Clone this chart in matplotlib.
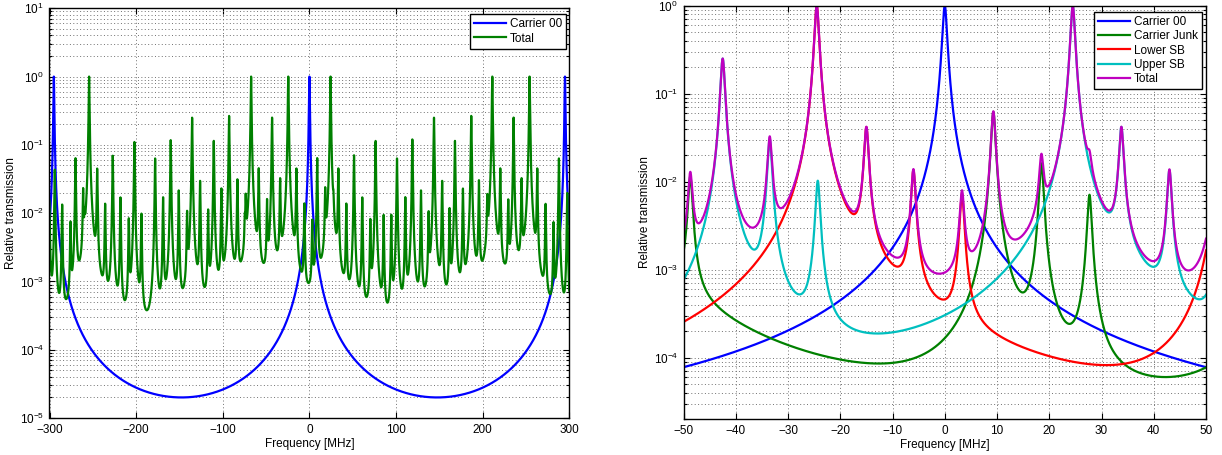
import numpy as np
import matplotlib
matplotlib.use("Agg")
import matplotlib.pyplot as plt
from matplotlib.ticker import LogLocator, FixedLocator, NullFormatter

plt.rcParams['font.family'] = ['Liberation Sans', 'DejaVu Sans']
plt.rcParams['mathtext.fontset'] = 'custom'
plt.rcParams['mathtext.rm'] = 'Liberation Sans'
plt.rcParams['mathtext.it'] = 'Liberation Sans:italic'
plt.rcParams['mathtext.bf'] = 'Liberation Sans:bold'

# ---------------- data ----------------
# cavity line parameters
fsr_mhz = 295.0          # free spectral range of carrier 00 (peaks at 0, +-295)
coeff_F = 5.0e4          # min of carrier 00 = 1/(1+F) ~ 2e-5
linewidth_mhz = 0.8      # FWHM of each resonance

# left panel: resonance peaks of the "Total" curve (MHz, relative height)
left_total_freq = [-300.4, -293.9, -285.4, -275.8, -270.0, -261.2, -259.5, -254.3,
                   -245.0, -235.8, -227.0, -218.1, -208.5, -202.0, -193.9, -178.1,
                   -168.9, -160.1, -150.8, -141.2, -135.4, -126.2, -116.9, -110.4,
                   -101.6, -92.7, -83.1, -74.6, -73.5, -67.3, -58.5, -48.9, -43.1,
                   -33.8, -24.4, -15.0, -5.8, 3.3, 9.0, 18.2, 24.4, 27.7, 33.4,
                   42.6, 51.5, 61.0, 70.3, 76.4, 85.7, 94.5, 101.1, 110.7, 118.8,
                   128.8, 137.6, 143.8, 153.2, 161.8, 168.0, 177.2, 186.8, 195.7,
                   205.3, 211.1, 220.3, 229.5, 235.7, 244.9, 254.1, 263.0, 272.6,
                   281.8, 288.0, 297.6]
left_total_height = [0.03, 0.043, 0.013, 0.0068, 0.063, 0.0195, 0.005, 1.0,
                     0.043, 0.013, 0.069, 0.0166, 0.0078, 0.11, 0.0094, 0.063,
                     0.0166, 0.117, 0.021, 0.0094, 0.25, 0.029, 0.0105, 0.114,
                     0.022, 0.265, 0.03, 0.005, 0.0142, 1.0, 0.043, 0.014, 0.25,
                     0.03, 1.0, 0.043, 0.013, 0.007, 0.063, 0.0195, 1.0, 0.007, 0.043,
                     0.013, 0.07, 0.0166, 0.0075, 0.114, 0.009, 0.009, 0.063, 0.0166, 0.12,
                     0.021, 0.0094, 0.25, 0.029, 0.011, 0.114, 0.022, 0.265, 0.029,
                     0.014, 1.0, 0.043, 0.014, 0.25, 0.03, 1.0, 0.043, 0.013,
                     0.0068, 0.063, 0.0195]

# right panel: peaks of each field component (MHz, relative height)
carrier00_freq = [0.0]
carrier00_height = [1.0]
junk_freq = [-67.3, -58.5, -48.7, 9.3, 18.5, 27.7, 61.0, 76.4]
junk_height = [1.0, 0.043, 0.011, 0.062, 0.016, 0.007, 0.0166, 0.14]
lower_sb_freq = [-24.5, -15.0, -6.0, 3.3, 52.6]
lower_sb_height = [1.0, 0.04, 0.013, 0.007, 0.07]
upper_sb_freq = [-42.5, -33.5, -24.3, 24.5, 33.8, 43.0, 52.5]
upper_sb_height = [0.25, 0.03, 0.01, 1.0, 0.04, 0.013, 0.008]

left_xlim = (-300, 300)
right_xlim = (-50, 50)
left_xticks = [-300, -200, -100, 0, 100, 200, 300]
right_xticks = [-50, -40, -30, -20, -10, 0, 10, 20, 30, 40, 50]
left_ylim = (1e-5, 1e1)
right_ylim = (2e-5, 1.0)
left_labels = ['Carrier 00', 'Total']
right_labels = ['Carrier 00', 'Carrier Junk', 'Lower SB', 'Upper SB', 'Total']
xlabel = 'Frequency [MHz]'
ylabel = 'Relative transmission'


# ---------------- line shapes ----------------
def airy(f, centers, heights):
    out = np.zeros_like(f)
    for c, h in zip(centers, heights):
        out += h / (1.0 + coeff_F * np.sin(np.pi * (f - c) / fsr_mhz) ** 2)
    return out


def lorentz(f, centers, heights):
    out = np.zeros_like(f)
    for c, h in zip(centers, heights):
        out += h / (1.0 + (2.0 * (f - c) / linewidth_mhz) ** 2)
    return out


fl = np.linspace(left_xlim[0], left_xlim[1], 120001)
fr = np.linspace(right_xlim[0], right_xlim[1], 40001)

left_carrier = airy(fl, carrier00_freq, carrier00_height)
left_total = lorentz(fl, left_total_freq, left_total_height)

r_carrier = airy(fr, carrier00_freq, carrier00_height)
r_junk = lorentz(fr, junk_freq, junk_height)
r_lower = lorentz(fr, lower_sb_freq, lower_sb_height)
r_upper = lorentz(fr, upper_sb_freq, upper_sb_height)
r_total = r_junk + r_lower + r_upper

# ---------------- figure ----------------
W, H = 1222, 455
fig = plt.figure(figsize=(W / 100, H / 100), dpi=100)

def px_axes(x0, y0, x1, y1):
    return fig.add_axes([x0 / W, 1 - y1 / H, (x1 - x0) / W, (y1 - y0) / H])

axL = px_axes(49.5, 8.3, 569.3, 418.0)
axR = px_axes(683.5, 5.7, 1206.0, 419.0)

FS = 8.5
BLUE = '#0000ff'
GREEN = '#008000'
RED = '#ff0000'
CYAN = '#00bfbf'
MAG = '#bf00bf'
LW = 1.6
GRID_KW = dict(linestyle=(0, (1, 2.5)), color='#707070', linewidth=0.7)


def style(ax, xticks, xlim, ylim):
    ax.set_yscale('log')
    ax.set_xlim(*xlim)
    ax.set_ylim(*ylim)
    ax.xaxis.set_major_locator(FixedLocator(xticks))
    ax.yaxis.set_major_locator(LogLocator(base=10, numticks=20))
    ax.yaxis.set_minor_locator(LogLocator(base=10, subs=np.arange(2, 10), numticks=20))
    ax.yaxis.set_minor_formatter(NullFormatter())
    ax.tick_params(which='both', direction='in', top=True, right=True,
                   labelsize=FS, width=0.8, colors='black')
    ax.tick_params(which='major', length=4, pad=4)
    ax.tick_params(which='minor', length=2)
    ax.grid(True, which='major', axis='x', **GRID_KW)
    ax.grid(True, which='both', axis='y', **GRID_KW)
    for sp in ax.spines.values():
        sp.set_linewidth(1.0)
        sp.set_color('black')
    ax.set_xlabel(xlabel, fontsize=FS, labelpad=2)
    ax.set_ylabel(ylabel, fontsize=FS, labelpad=2)


style(axL, left_xticks, left_xlim, left_ylim)
axL.plot(fl, left_carrier, color=BLUE, lw=LW, label=left_labels[0])
axL.plot(fl, left_total, color=GREEN, lw=LW, label=left_labels[1])
legL = axL.legend(loc='upper right', bbox_to_anchor=(0.994, 0.986), borderaxespad=0,
                  fontsize=FS, fancybox=False, framealpha=1, edgecolor='black',
                  handlelength=2.7, handletextpad=0.35, labelspacing=0.2,
                  borderpad=0.35)
legL.get_frame().set_linewidth(1.0)

style(axR, right_xticks, right_xlim, right_ylim)
axR.plot(fr, r_carrier, color=BLUE, lw=LW, label=right_labels[0])
axR.plot(fr, r_junk, color=GREEN, lw=LW, label=right_labels[1])
axR.plot(fr, r_lower, color=RED, lw=LW, label=right_labels[2])
axR.plot(fr, r_upper, color=CYAN, lw=LW, label=right_labels[3])
axR.plot(fr, r_total, color=MAG, lw=LW, label=right_labels[4])
legR = axR.legend(loc='upper right', bbox_to_anchor=(0.9923, 0.9855), borderaxespad=0,
                  fontsize=FS, fancybox=False, framealpha=1, edgecolor='black',
                  handlelength=2.7, handletextpad=0.35, labelspacing=0.2,
                  borderpad=0.35)
legR.get_frame().set_linewidth(1.0)

fig.savefig('out.png', dpi=100)
